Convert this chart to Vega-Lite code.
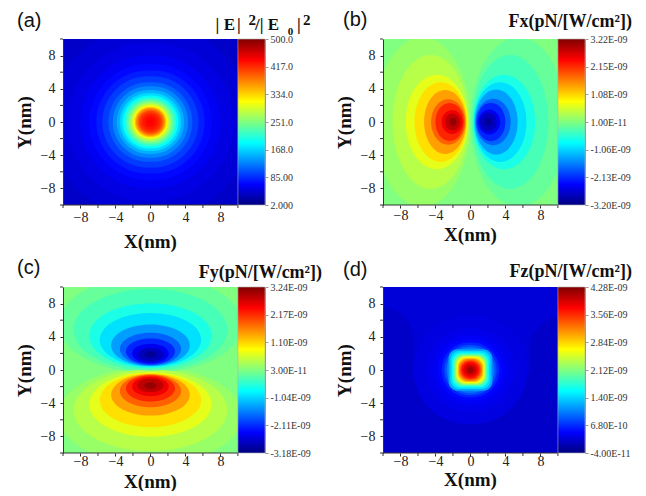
{
  "$schema": "https://vega.github.io/schema/vega-lite/v6.json",
  "background": "white",
  "padding": {"left": 15, "top": 9, "right": 5, "bottom": 0},
  "config": {
    "view": {"stroke": null},
    "axis": {"grid": false, "labelFont": "Liberation Serif", "titleFont": "Liberation Serif", "labelFontSize": 14, "titleFontSize": 19, "titleFontWeight": "bold", "tickSize": 3, "labelColor": "#222", "titleColor": "#111", "tickColor": "#333", "domainColor": "#333", "labelOverlap": false, "labelFlush": false}
  },
  "datasets": {
    "minor": [{"t": -10}, {"t": -6}, {"t": -2}, {"t": 2}, {"t": 6}, {"t": 10}],
    "a": [
      {"x1": -16, "x2": 16, "y1": -16, "y2": 16, "v": 38},
      {"x1": -11.5, "x2": 11.5, "y1": -11.5, "y2": 11.5, "v": 44},
      {"x1": -9.5, "x2": 9.5, "y1": -9.5, "y2": 9.5, "v": 50},
      {"x1": -8, "x2": 8, "y1": -8, "y2": 8, "v": 58},
      {"x1": -7, "x2": 7, "y1": -7, "y2": 7, "v": 67},
      {"x1": -6.2, "x2": 6.2, "y1": -6.2, "y2": 6.2, "v": 78},
      {"x1": -5.5, "x2": 5.5, "y1": -5.5, "y2": 5.5, "v": 93},
      {"x1": -4.8, "x2": 4.8, "y1": -4.8, "y2": 4.8, "v": 110},
      {"x1": -4.3, "x2": 4.3, "y1": -4.3, "y2": 4.3, "v": 130},
      {"x1": -3.85, "x2": 3.85, "y1": -3.85, "y2": 3.85, "v": 150},
      {"x1": -3.5, "x2": 3.5, "y1": -3.5, "y2": 3.5, "v": 170},
      {"x1": -3.2, "x2": 3.2, "y1": -3.2, "y2": 3.2, "v": 190},
      {"x1": -2.95, "x2": 2.95, "y1": -2.95, "y2": 2.95, "v": 212},
      {"x1": -2.7, "x2": 2.7, "y1": -2.7, "y2": 2.7, "v": 232},
      {"x1": -2.5, "x2": 2.5, "y1": -2.5, "y2": 2.5, "v": 251},
      {"x1": -2.3, "x2": 2.3, "y1": -2.3, "y2": 2.3, "v": 275},
      {"x1": -2.1, "x2": 2.1, "y1": -2.1, "y2": 2.1, "v": 292},
      {"x1": -1.95, "x2": 1.95, "y1": -1.95, "y2": 1.95, "v": 316},
      {"x1": -1.8, "x2": 1.8, "y1": -1.8, "y2": 1.8, "v": 345},
      {"x1": -1.65, "x2": 1.65, "y1": -1.65, "y2": 1.65, "v": 370},
      {"x1": -1.5, "x2": 1.5, "y1": -1.5, "y2": 1.5, "v": 387},
      {"x1": -1.35, "x2": 1.35, "y1": -1.35, "y2": 1.35, "v": 405},
      {"x1": -1.15, "x2": 1.15, "y1": -1.15, "y2": 1.15, "v": 418},
      {"x1": -0.9, "x2": 0.9, "y1": -0.9, "y2": 0.9, "v": 428},
      {"x1": -0.6, "x2": 0.6, "y1": -0.6, "y2": 0.6, "v": 435},
      {"x1": -0.3, "x2": 0.3, "y1": -0.3, "y2": 0.3, "v": 440}
    ],
    "b": [
      {"cx": 0, "cy": 0, "a": 16, "k": "A", "v": 0.01},
      {"cx": -5.5, "cy": 0, "a": 5.5, "k": "D", "v": 0.17},
      {"cx": 5.5, "cy": 0, "a": 5.5, "k": "D", "v": -0.15},
      {"cx": -4.55, "cy": 0, "a": 4.35, "k": "D", "v": 0.36},
      {"cx": 4.55, "cy": 0, "a": 4.35, "k": "D", "v": -0.34},
      {"cx": -3.85, "cy": 0, "a": 3.55, "k": "C", "v": 0.65},
      {"cx": 3.85, "cy": 0, "a": 3.55, "k": "C", "v": -0.63},
      {"cx": -3.4, "cy": 0, "a": 3.0, "k": "C", "v": 1.01},
      {"cx": 3.4, "cy": 0, "a": 3.0, "k": "C", "v": -0.99},
      {"cx": -2.9, "cy": 0, "a": 2.4, "k": "C", "v": 1.42},
      {"cx": 2.95, "cy": 0, "a": 2.45, "k": "C", "v": -1.4},
      {"cx": -2.55, "cy": 0, "a": 1.95, "k": "B", "v": 1.81},
      {"cx": 2.6, "cy": 0, "a": 2.0, "k": "B", "v": -1.79},
      {"cx": -2.38, "cy": 0, "a": 1.63, "k": "B", "v": 2.19},
      {"cx": 2.35, "cy": 0, "a": 1.65, "k": "B", "v": -2.17},
      {"cx": -2.1, "cy": 0, "a": 1.2, "k": "A", "v": 2.51},
      {"cx": 2.15, "cy": 0, "a": 1.25, "k": "A", "v": -2.49},
      {"cx": -2.05, "cy": 0, "a": 0.85, "k": "A", "v": 2.83},
      {"cx": 2.05, "cy": 0, "a": 0.95, "k": "A", "v": -2.81},
      {"cx": -1.98, "cy": 0, "a": 0.4, "k": "A", "v": 3.09},
      {"cx": 2.0, "cy": 0, "a": 0.4, "k": "A", "v": -3.07}
    ],
    "c": [
      {"cx": 0, "cy": 0, "a": 25, "v": 0.03},
      {"cx": 0, "cy": -5.5, "a": 10.5, "v": 0.19},
      {"cx": 0, "cy": 5.5, "a": 10.5, "v": -0.13},
      {"cx": 0, "cy": -4.85, "a": 8.8, "v": 0.38},
      {"cx": 0, "cy": 4.85, "a": 8.8, "v": -0.32},
      {"cx": 0, "cy": -4.14, "a": 7.0, "v": 0.67},
      {"cx": 0, "cy": 4.14, "a": 7.0, "v": -0.61},
      {"cx": 0, "cy": -3.63, "a": 5.8, "v": 1.03},
      {"cx": 0, "cy": 3.63, "a": 5.8, "v": -0.97},
      {"cx": 0, "cy": -2.98, "a": 4.5, "v": 1.44},
      {"cx": 0, "cy": 2.98, "a": 4.5, "v": -1.38},
      {"cx": 0, "cy": -2.53, "a": 3.5, "v": 1.83},
      {"cx": 0, "cy": 2.53, "a": 3.5, "v": -1.77},
      {"cx": 0, "cy": -2.23, "a": 2.8, "v": 2.21},
      {"cx": 0, "cy": 2.23, "a": 2.8, "v": -2.15},
      {"cx": 0, "cy": -2.0, "a": 2.1, "v": 2.53},
      {"cx": 0, "cy": 2.0, "a": 2.1, "v": -2.47},
      {"cx": 0, "cy": -1.85, "a": 1.5, "v": 2.85},
      {"cx": 0, "cy": 1.85, "a": 1.5, "v": -2.79},
      {"cx": 0, "cy": -1.88, "a": 0.7, "v": 3.11},
      {"cx": 0, "cy": 1.88, "a": 0.7, "v": -3.05}
    ],
    "d_out": [
      {"x1": -16, "x2": 16, "y1": -16, "y2": 16, "v": 0.34},
      {"x1": -14, "x2": -6.5, "y1": -20, "y2": 7.6, "v": 0.27},
      {"x1": 6.8, "x2": 14, "y1": -20, "y2": 6.4, "v": 0.27},
      {"x1": -14, "x2": 14, "y1": -20, "y2": 0, "v": 0.27},
      {"x1": -6.5, "x2": 6.5, "y1": -6.5, "y2": 6.5, "v": 0.37},
      {"x1": -5, "x2": 5, "y1": -5, "y2": 5, "v": 0.41},
      {"x1": -4.2, "x2": 4.2, "y1": -4.2, "y2": 4.2, "v": 0.46},
      {"x1": -3.7, "x2": 3.7, "y1": -3.7, "y2": 3.7, "v": 0.52},
      {"x1": -3.3, "x2": 3.3, "y1": -3.3, "y2": 3.3, "v": 0.65},
      {"x1": -3.0, "x2": 3.0, "y1": -3.0, "y2": 3.0, "v": 0.82},
      {"x1": -2.75, "x2": 2.75, "y1": -2.75, "y2": 2.75, "v": 1.0}
    ],
    "d_in": [
      {"x1": -2.5, "x2": 2.5, "y1": -2.5, "y2": 2.5, "v": 1.21},
      {"x1": -2.3, "x2": 2.3, "y1": -2.3, "y2": 2.3, "v": 1.43},
      {"x1": -2.1, "x2": 2.1, "y1": -2.1, "y2": 2.1, "v": 1.64},
      {"x1": -1.95, "x2": 1.95, "y1": -1.95, "y2": 1.95, "v": 1.9},
      {"x1": -1.8, "x2": 1.8, "y1": -1.8, "y2": 1.8, "v": 2.16},
      {"x1": -1.68, "x2": 1.68, "y1": -1.68, "y2": 1.68, "v": 2.42},
      {"x1": -1.56, "x2": 1.56, "y1": -1.56, "y2": 1.56, "v": 2.68},
      {"x1": -1.45, "x2": 1.45, "y1": -1.45, "y2": 1.45, "v": 2.94},
      {"x1": -1.32, "x2": 1.32, "y1": -1.32, "y2": 1.32, "v": 3.2},
      {"x1": -1.18, "x2": 1.18, "y1": -1.18, "y2": 1.18, "v": 3.46},
      {"x1": -1.02, "x2": 1.02, "y1": -1.02, "y2": 1.02, "v": 3.68},
      {"x1": -0.8, "x2": 0.8, "y1": -0.8, "y2": 0.8, "v": 3.85},
      {"x1": -0.55, "x2": 0.55, "y1": -0.55, "y2": 0.55, "v": 4.02},
      {"x1": -0.3, "x2": 0.3, "y1": -0.3, "y2": 0.3, "v": 4.15}
    ]
  },
  "columns": 2,
  "spacing": {"row": 82, "column": 118},
  "bounds": "flush",
  "resolve": {"scale": {"x": "independent", "y": "independent", "color": "independent", "size": "independent", "shape": "independent"}},
  "concat": [
    {
      "width": 202, "height": 166,
      "layer": [
        {"layer": [
          {"data": {"name": "a"},
           "mark": {"type": "rect", "cornerRadius": 999, "clip": true},
           "encoding": {
             "x": {"field": "x1", "type": "quantitative", "scale": {"domain": [-10, 13.1], "nice": false, "zero": false},
                   "axis": {"values": [-8, -4, 0, 4, 8], "title": "X(nm)", "titleX": 87, "domain": false, "labelFont": "Liberation Serif", "labelFontSize": 14, "labelColor": "#222", "labelPadding": 2, "titlePadding": 8, "zindex": 1}},
             "x2": {"field": "x2"},
             "y": {"field": "y1", "type": "quantitative", "scale": {"domain": [-10, 10], "nice": false, "zero": false},
                   "axis": {"values": [-8, -4, 0, 4, 8], "title": "Y(nm)", "labelFont": "Liberation Serif", "labelFontSize": 14, "labelColor": "#222", "labelPadding": 5, "titlePadding": 6, "zindex": 1}},
             "y2": {"field": "y2"},
             "color": {"field": "v", "type": "quantitative", "scale": {"domain": [2, 64.25, 126.5, 188.75, 251, 313.25, 375.5, 437.75, 500], "range": ["#000080", "#0000ff", "#0080ff", "#00ffff", "#80ff80", "#ffff00", "#ff8000", "#ff0000", "#800000"], "interpolate": "rgb"}, "legend": null}
           }},
          {"data": {"values": [{}]}, "mark": {"type": "rule", "color": "#333", "strokeWidth": 1},
           "encoding": {"x": {"datum": -10, "type": "quantitative"}, "x2": {"datum": 10}, "y": {"datum": -10, "type": "quantitative"}}},
          {"data": {"name": "minor"}, "mark": {"type": "rule", "color": "#333", "strokeWidth": 1},
           "encoding": {"x": {"field": "t", "type": "quantitative"}, "y": {"datum": -10, "type": "quantitative"}, "y2": {"datum": -10.36}}},
          {"data": {"name": "minor"}, "mark": {"type": "rule", "color": "#333", "strokeWidth": 1},
           "encoding": {"y": {"field": "t", "type": "quantitative"}, "x": {"datum": -10, "type": "quantitative"}, "x2": {"datum": -10.34}}},
          {"data": {"values": [{}]}, "mark": {"type": "text", "text": "(a)", "font": "Liberation Sans", "fontSize": 20, "align": "left", "baseline": "alphabetic", "color": "#111"},
           "encoding": {"x": {"datum": -15.26, "type": "quantitative"}, "y": {"datum": 11.45, "type": "quantitative"}}},
          {"data": {"values": [{}]}, "mark": {"type": "text", "text": "|", "font": "Liberation Serif", "fontSize": 17, "fontWeight": "bold", "align": "left", "baseline": "alphabetic", "color": "#111"},
           "encoding": {"x": {"datum": 7.45, "type": "quantitative"}, "y": {"datum": 11.08, "type": "quantitative"}}},
          {"data": {"values": [{}]}, "mark": {"type": "text", "text": "E", "font": "Liberation Serif", "fontSize": 17, "fontWeight": "bold", "align": "left", "baseline": "alphabetic", "color": "#111"},
           "encoding": {"x": {"datum": 8.37, "type": "quantitative"}, "y": {"datum": 11.08, "type": "quantitative"}}},
          {"data": {"values": [{}]}, "mark": {"type": "text", "text": "|", "font": "Liberation Serif", "fontSize": 17, "fontWeight": "bold", "align": "left", "baseline": "alphabetic", "color": "#111"},
           "encoding": {"x": {"datum": 9.9, "type": "quantitative"}, "y": {"datum": 11.08, "type": "quantitative"}}},
          {"data": {"values": [{}]}, "mark": {"type": "text", "text": "2", "font": "Liberation Serif", "fontSize": 15, "fontWeight": "bold", "align": "left", "baseline": "alphabetic", "color": "#111"},
           "encoding": {"x": {"datum": 11.2, "type": "quantitative"}, "y": {"datum": 11.69, "type": "quantitative"}}},
          {"data": {"values": [{}]}, "mark": {"type": "text", "text": "/| E", "font": "Liberation Serif", "fontSize": 17, "fontWeight": "bold", "align": "left", "baseline": "alphabetic", "color": "#111"},
           "encoding": {"x": {"datum": 11.96, "type": "quantitative"}, "y": {"datum": 11.08, "type": "quantitative"}}},
          {"data": {"values": [{}]}, "mark": {"type": "text", "text": "0", "font": "Liberation Serif", "fontSize": 11, "fontWeight": "bold", "align": "left", "baseline": "alphabetic", "color": "#111"},
           "encoding": {"x": {"datum": 15.7, "type": "quantitative"}, "y": {"datum": 10.45, "type": "quantitative"}}},
          {"data": {"values": [{}]}, "mark": {"type": "text", "text": "|", "font": "Liberation Serif", "fontSize": 17, "fontWeight": "bold", "align": "left", "baseline": "alphabetic", "color": "#111"},
           "encoding": {"x": {"datum": 16.75, "type": "quantitative"}, "y": {"datum": 11.08, "type": "quantitative"}}},
          {"data": {"values": [{}]}, "mark": {"type": "text", "text": "2", "font": "Liberation Serif", "fontSize": 15, "fontWeight": "bold", "align": "left", "baseline": "alphabetic", "color": "#111"},
           "encoding": {"x": {"datum": 17.45, "type": "quantitative"}, "y": {"datum": 11.69, "type": "quantitative"}}}
        ]},
        {"data": {"values": [{"lo": 2, "hi": 500}]},
         "mark": {"type": "rect", "stroke": "#b0b0b0", "strokeWidth": 0.6, "color": {"gradient": "linear", "x1": 0, "y1": 1, "x2": 0, "y2": 0, "stops": [{"offset": 0, "color": "#000080"}, {"offset": 0.125, "color": "#0000ff"}, {"offset": 0.25, "color": "#0080ff"}, {"offset": 0.375, "color": "#00ffff"}, {"offset": 0.5, "color": "#80ff80"}, {"offset": 0.625, "color": "#ffff00"}, {"offset": 0.75, "color": "#ff8000"}, {"offset": 0.875, "color": "#ff0000"}, {"offset": 1, "color": "#800000"}]}},
         "encoding": {
           "x": {"datum": 10, "type": "quantitative"}, "x2": {"datum": 13.1},
           "y": {"field": "lo", "type": "quantitative", "scale": {"domain": [2, 500], "nice": false, "zero": false},
                 "axis": {"orient": "right", "values": [2, 85, 168, 251, 334, 417, 500], "format": ".4g", "title": null, "tickSize": 3, "labelFont": "Liberation Serif", "labelFontSize": 10, "labelPadding": 2, "domainColor": "#999", "tickColor": "#999", "labelColor": "#333", "zindex": 1}},
           "y2": {"field": "hi"}
         }}
      ],
      "resolve": {"scale": {"y": "independent"}, "axis": {"y": "independent"}}
    },
    {
      "width": 202, "height": 166,
      "layer": [
        {"layer": [
          {"data": {"name": "b"},
           "mark": {"type": "point", "filled": true, "opacity": 1, "strokeWidth": 0, "clip": true},
           "encoding": {
             "x": {"field": "cx", "type": "quantitative", "scale": {"domain": [-10, 13.1], "nice": false, "zero": false},
                   "axis": {"values": [-8, -4, 0, 4, 8], "title": "X(nm)", "titleX": 87, "domain": false, "labelFont": "Liberation Serif", "labelFontSize": 14, "labelColor": "#222", "labelPadding": 0, "titlePadding": 3, "zindex": 1}},
             "y": {"field": "cy", "type": "quantitative", "scale": {"domain": [-10, 10], "nice": false, "zero": false},
                   "axis": {"values": [-8, -4, 0, 4, 8], "title": "Y(nm)", "labelFont": "Liberation Serif", "labelFontSize": 14, "labelColor": "#222", "labelPadding": 5, "titlePadding": 6, "zindex": 1}},
             "size": {"field": "a", "type": "quantitative", "scale": {"type": "pow", "exponent": 2, "domain": [0, 10], "range": [0, 30587]}, "legend": null},
             "shape": {"field": "k", "type": "nominal", "scale": {"domain": ["A", "B", "C", "D"], "range": ["M-1,0A1,1.14,0,0,1,1,0A1,1.14,0,0,1,-1,0Z", "M-1,0A1,1.33,0,0,1,1,0A1,1.33,0,0,1,-1,0Z", "M-1,0A1,1.52,0,0,1,1,0A1,1.52,0,0,1,-1,0Z", "M-1,0A1,1.76,0,0,1,1,0A1,1.76,0,0,1,-1,0Z"]}, "legend": null},
             "color": {"field": "v", "type": "quantitative", "scale": {"domain": [-3.2, -2.3975, -1.595, -0.7925, 0.01, 0.8125, 1.615, 2.4175, 3.22], "range": ["#000080", "#0000ff", "#0080ff", "#00ffff", "#80ff80", "#ffff00", "#ff8000", "#ff0000", "#800000"], "interpolate": "rgb"}, "legend": null}
           }},
          {"data": {"values": [{}]}, "mark": {"type": "rule", "color": "#333", "strokeWidth": 1},
           "encoding": {"x": {"datum": -10, "type": "quantitative"}, "x2": {"datum": 10}, "y": {"datum": -10, "type": "quantitative"}}},
          {"data": {"name": "minor"}, "mark": {"type": "rule", "color": "#333", "strokeWidth": 1},
           "encoding": {"x": {"field": "t", "type": "quantitative"}, "y": {"datum": -10, "type": "quantitative"}, "y2": {"datum": -10.36}}},
          {"data": {"name": "minor"}, "mark": {"type": "rule", "color": "#333", "strokeWidth": 1},
           "encoding": {"y": {"field": "t", "type": "quantitative"}, "x": {"datum": -10, "type": "quantitative"}, "x2": {"datum": -10.34}}},
          {"data": {"values": [{}]}, "mark": {"type": "text", "text": "(b)", "font": "Liberation Sans", "fontSize": 20, "align": "left", "baseline": "alphabetic", "color": "#111"},
           "encoding": {"x": {"datum": -14.57, "type": "quantitative"}, "y": {"datum": 11.57, "type": "quantitative"}}},
          {"data": {"values": [{}]}, "mark": {"type": "text", "text": "Fx(pN/[W/cm²])", "font": "Liberation Serif", "fontSize": 18, "fontWeight": "bold", "align": "right", "baseline": "alphabetic", "color": "#111"},
           "encoding": {"x": {"datum": 18.47, "type": "quantitative"}, "y": {"datum": 11.45, "type": "quantitative"}}}
        ]},
        {"data": {"values": [{"lo": -3.2, "hi": 3.22}]},
         "mark": {"type": "rect", "stroke": "#b0b0b0", "strokeWidth": 0.6, "color": {"gradient": "linear", "x1": 0, "y1": 1, "x2": 0, "y2": 0, "stops": [{"offset": 0, "color": "#000080"}, {"offset": 0.125, "color": "#0000ff"}, {"offset": 0.25, "color": "#0080ff"}, {"offset": 0.375, "color": "#00ffff"}, {"offset": 0.5, "color": "#80ff80"}, {"offset": 0.625, "color": "#ffff00"}, {"offset": 0.75, "color": "#ff8000"}, {"offset": 0.875, "color": "#ff0000"}, {"offset": 1, "color": "#800000"}]}},
         "encoding": {
           "x": {"datum": 10, "type": "quantitative"}, "x2": {"datum": 13.1},
           "y": {"field": "lo", "type": "quantitative", "scale": {"domain": [-3.2, 3.22], "nice": false, "zero": false},
                 "axis": {"orient": "right", "values": [-3.2, -2.13, -1.06, 0.01, 1.08, 2.15, 3.22], "labelExpr": "abs(datum.value) < 0.05 ? '1.00E-11' : replace(format(datum.value, '.2f'), '\u2212', '-') + 'E-09'", "title": null, "tickSize": 3, "labelFont": "Liberation Serif", "labelFontSize": 10, "labelPadding": 2, "domainColor": "#999", "tickColor": "#999", "labelColor": "#333", "zindex": 1}},
           "y2": {"field": "hi"}
         }}
      ],
      "resolve": {"scale": {"y": "independent"}, "axis": {"y": "independent"}}
    },
    {
      "width": 202, "height": 166,
      "layer": [
        {"layer": [
          {"data": {"name": "c"},
           "mark": {"type": "point", "filled": true, "opacity": 1, "strokeWidth": 0, "clip": true, "shape": "M-1,0A1,0.53,0,0,1,1,0A1,0.53,0,0,1,-1,0Z"},
           "encoding": {
             "x": {"field": "cx", "type": "quantitative", "scale": {"domain": [-10, 13.1], "nice": false, "zero": false},
                   "axis": {"values": [-8, -4, 0, 4, 8], "title": "X(nm)", "titleX": 87, "domain": false, "labelFont": "Liberation Serif", "labelFontSize": 14, "labelColor": "#222", "labelPadding": -2, "titlePadding": 4, "zindex": 1}},
             "y": {"field": "cy", "type": "quantitative", "scale": {"domain": [-10, 10], "nice": false, "zero": false},
                   "axis": {"values": [-8, -4, 0, 4, 8], "title": "Y(nm)", "labelFont": "Liberation Serif", "labelFontSize": 14, "labelColor": "#222", "labelPadding": 5, "titlePadding": 6, "zindex": 1}},
             "size": {"field": "a", "type": "quantitative", "scale": {"type": "pow", "exponent": 2, "domain": [0, 10], "range": [0, 30587]}, "legend": null},
             "color": {"field": "v", "type": "quantitative", "scale": {"domain": [-3.18, -2.3775, -1.575, -0.7725, 0.03, 0.8325, 1.635, 2.4375, 3.24], "range": ["#000080", "#0000ff", "#0080ff", "#00ffff", "#80ff80", "#ffff00", "#ff8000", "#ff0000", "#800000"], "interpolate": "rgb"}, "legend": null}
           }},
          {"data": {"values": [{}]}, "mark": {"type": "rule", "color": "#333", "strokeWidth": 1},
           "encoding": {"x": {"datum": -10, "type": "quantitative"}, "x2": {"datum": 10}, "y": {"datum": -10, "type": "quantitative"}}},
          {"data": {"name": "minor"}, "mark": {"type": "rule", "color": "#333", "strokeWidth": 1},
           "encoding": {"x": {"field": "t", "type": "quantitative"}, "y": {"datum": -10, "type": "quantitative"}, "y2": {"datum": -10.36}}},
          {"data": {"name": "minor"}, "mark": {"type": "rule", "color": "#333", "strokeWidth": 1},
           "encoding": {"y": {"field": "t", "type": "quantitative"}, "x": {"datum": -10, "type": "quantitative"}, "x2": {"datum": -10.34}}},
          {"data": {"values": [{}]}, "mark": {"type": "text", "text": "(c)", "font": "Liberation Sans", "fontSize": 20, "align": "left", "baseline": "alphabetic", "color": "#111"},
           "encoding": {"x": {"datum": -15.26, "type": "quantitative"}, "y": {"datum": 11.57, "type": "quantitative"}}},
          {"data": {"values": [{}]}, "mark": {"type": "text", "text": "Fy(pN/[W/cm²])", "font": "Liberation Serif", "fontSize": 18, "fontWeight": "bold", "align": "right", "baseline": "alphabetic", "color": "#111"},
           "encoding": {"x": {"datum": 19.62, "type": "quantitative"}, "y": {"datum": 11.1, "type": "quantitative"}}}
        ]},
        {"data": {"values": [{"lo": -3.18, "hi": 3.24}]},
         "mark": {"type": "rect", "stroke": "#b0b0b0", "strokeWidth": 0.6, "color": {"gradient": "linear", "x1": 0, "y1": 1, "x2": 0, "y2": 0, "stops": [{"offset": 0, "color": "#000080"}, {"offset": 0.125, "color": "#0000ff"}, {"offset": 0.25, "color": "#0080ff"}, {"offset": 0.375, "color": "#00ffff"}, {"offset": 0.5, "color": "#80ff80"}, {"offset": 0.625, "color": "#ffff00"}, {"offset": 0.75, "color": "#ff8000"}, {"offset": 0.875, "color": "#ff0000"}, {"offset": 1, "color": "#800000"}]}},
         "encoding": {
           "x": {"datum": 10, "type": "quantitative"}, "x2": {"datum": 13.1},
           "y": {"field": "lo", "type": "quantitative", "scale": {"domain": [-3.18, 3.24], "nice": false, "zero": false},
                 "axis": {"orient": "right", "values": [-3.18, -2.11, -1.04, 0.03, 1.1, 2.17, 3.24], "labelExpr": "abs(datum.value) < 0.05 ? '3.00E-11' : replace(format(datum.value, '.2f'), '\u2212', '-') + 'E-09'", "title": null, "tickSize": 3, "labelFont": "Liberation Serif", "labelFontSize": 10, "labelPadding": 2, "domainColor": "#999", "tickColor": "#999", "labelColor": "#333", "zindex": 1}},
           "y2": {"field": "hi"}
         }}
      ],
      "resolve": {"scale": {"y": "independent"}, "axis": {"y": "independent"}}
    },
    {
      "width": 202, "height": 166,
      "layer": [
        {"layer": [
          {"data": {"name": "d_out"},
           "mark": {"type": "rect", "cornerRadius": 999, "clip": true},
           "encoding": {
             "x": {"field": "x1", "type": "quantitative", "scale": {"domain": [-10, 13.1], "nice": false, "zero": false},
                   "axis": {"values": [-8, -4, 0, 4, 8], "title": "X(nm)", "titleX": 87, "domain": false, "labelFont": "Liberation Serif", "labelFontSize": 14, "labelColor": "#222", "labelPadding": -2, "titlePadding": 2, "zindex": 1}},
             "x2": {"field": "x2"},
             "y": {"field": "y1", "type": "quantitative", "scale": {"domain": [-10, 10], "nice": false, "zero": false},
                   "axis": {"values": [-8, -4, 0, 4, 8], "title": "Y(nm)", "labelFont": "Liberation Serif", "labelFontSize": 14, "labelColor": "#222", "labelPadding": 5, "titlePadding": 6, "zindex": 1}},
             "y2": {"field": "y2"},
             "color": {"field": "v", "type": "quantitative", "scale": {"domain": [-0.04, 0.5, 1.04, 1.58, 2.12, 2.66, 3.2, 3.74, 4.28], "range": ["#000080", "#0000ff", "#0080ff", "#00ffff", "#80ff80", "#ffff00", "#ff8000", "#ff0000", "#800000"], "interpolate": "rgb"}, "legend": null}
           }},
          {"data": {"name": "d_in"},
           "mark": {"type": "rect", "cornerRadius": 9, "clip": true},
           "encoding": {
             "x": {"field": "x1", "type": "quantitative"},
             "x2": {"field": "x2"},
             "y": {"field": "y1", "type": "quantitative"},
             "y2": {"field": "y2"},
             "color": {"field": "v", "type": "quantitative", "legend": null}
           }},
          {"data": {"values": [{}]}, "mark": {"type": "rule", "color": "#333", "strokeWidth": 1},
           "encoding": {"x": {"datum": -10, "type": "quantitative"}, "x2": {"datum": 10}, "y": {"datum": -10, "type": "quantitative"}}},
          {"data": {"name": "minor"}, "mark": {"type": "rule", "color": "#333", "strokeWidth": 1},
           "encoding": {"x": {"field": "t", "type": "quantitative"}, "y": {"datum": -10, "type": "quantitative"}, "y2": {"datum": -10.36}}},
          {"data": {"name": "minor"}, "mark": {"type": "rule", "color": "#333", "strokeWidth": 1},
           "encoding": {"y": {"field": "t", "type": "quantitative"}, "x": {"datum": -10, "type": "quantitative"}, "x2": {"datum": -10.34}}},
          {"data": {"values": [{}]}, "mark": {"type": "text", "text": "(d)", "font": "Liberation Sans", "fontSize": 20, "align": "left", "baseline": "alphabetic", "color": "#111"},
           "encoding": {"x": {"datum": -14.57, "type": "quantitative"}, "y": {"datum": 11.33, "type": "quantitative"}}},
          {"data": {"values": [{}]}, "mark": {"type": "text", "text": "Fz(pN/[W/cm²])", "font": "Liberation Serif", "fontSize": 18, "fontWeight": "bold", "align": "right", "baseline": "alphabetic", "color": "#111"},
           "encoding": {"x": {"datum": 18.47, "type": "quantitative"}, "y": {"datum": 11.2, "type": "quantitative"}}}
        ]},
        {"data": {"values": [{"lo": -0.04, "hi": 4.28}]},
         "mark": {"type": "rect", "stroke": "#b0b0b0", "strokeWidth": 0.6, "color": {"gradient": "linear", "x1": 0, "y1": 1, "x2": 0, "y2": 0, "stops": [{"offset": 0, "color": "#000080"}, {"offset": 0.125, "color": "#0000ff"}, {"offset": 0.25, "color": "#0080ff"}, {"offset": 0.375, "color": "#00ffff"}, {"offset": 0.5, "color": "#80ff80"}, {"offset": 0.625, "color": "#ffff00"}, {"offset": 0.75, "color": "#ff8000"}, {"offset": 0.875, "color": "#ff0000"}, {"offset": 1, "color": "#800000"}]}},
         "encoding": {
           "x": {"datum": 10, "type": "quantitative"}, "x2": {"datum": 13.1},
           "y": {"field": "lo", "type": "quantitative", "scale": {"domain": [-0.04, 4.28], "nice": false, "zero": false},
                 "axis": {"orient": "right", "values": [-0.04, 0.68, 1.4, 2.12, 2.84, 3.56, 4.28], "labelExpr": "datum.value < 0 ? '-4.00E-11' : datum.value < 1 ? '6.80E-10' : format(datum.value, '.2f') + 'E-09'", "title": null, "tickSize": 3, "labelFont": "Liberation Serif", "labelFontSize": 10, "labelPadding": 2, "domainColor": "#999", "tickColor": "#999", "labelColor": "#333", "zindex": 1}},
           "y2": {"field": "hi"}
         }}
      ],
      "resolve": {"scale": {"y": "independent"}, "axis": {"y": "independent"}}
    }
  ]
}
